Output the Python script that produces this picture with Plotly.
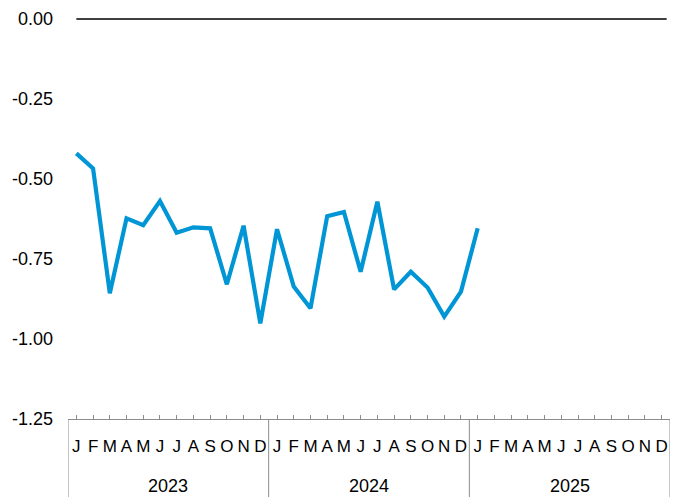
import plotly.graph_objects as go

months = ["J", "F", "M", "A", "M", "J", "J", "A", "S", "O", "N", "D"]
years = ["2023", "2024", "2025"]
values = [-0.420, -0.467, -0.857, -0.623, -0.644, -0.569, -0.668, -0.651, -0.654,
          -0.829, -0.646, -0.951,
          -0.657, -0.836, -0.904, -0.616, -0.603, -0.790, -0.571, -0.845, -0.790,
          -0.839, -0.930, -0.852,
          -0.654]
ytick_vals = [0, -0.25, -0.5, -0.75, -1.0, -1.25]
ytick_text = ["0.00", "-0.25", "-0.50", "-0.75", "-1.00", "-1.25"]

n_months = len(months) * len(years)
x_idx = list(range(len(values)))
month_labels = months * len(years)

W, H = 675, 497
ml, mr, mt, mb = 68, 5, 17, 78
pad_top = 0.00625
FONT = "Liberation Sans, Arial, sans-serif"

fig = go.Figure()
fig.add_trace(go.Scatter(x=x_idx, y=values, mode="lines",
                         line=dict(color="#0096D6", width=4.2),
                         hoverinfo="skip", showlegend=False))

# zero reference line
fig.add_shape(type="line", xref="x", yref="y", x0=0, x1=n_months - 0.7, y0=0, y1=0,
              line=dict(color="black", width=1.5))

# year separators
for k in range(len(years) + 1):
    xb = k * len(months) - 0.5
    fig.add_shape(type="line", xref="x", yref="paper", x0=xb, x1=xb, y0=0, y1=-0.2,
                  line=dict(color="#8c8c8c", width=1))

for k, yr in enumerate(years):
    fig.add_annotation(x=k * len(months) + 5.5, xref="x", y=-0.167, yref="paper",
                       text=yr, showarrow=False, yanchor="middle",
                       font=dict(size=18, color="black", family=FONT))

fig.update_layout(
    width=W, height=H,
    margin=dict(l=ml, r=mr, t=mt, b=mb),
    plot_bgcolor="white", paper_bgcolor="white",
    font=dict(family=FONT, size=16, color="black"),
    xaxis=dict(range=[-0.5, n_months - 0.5], tickvals=list(range(n_months)),
               ticktext=month_labels, ticks="inside", ticklen=4, tickcolor="#8c8c8c",
               showline=True, linecolor="#8c8c8c", linewidth=1, showgrid=False,
               zeroline=False, tickangle=0, ticklabelstandoff=12,
               tickfont=dict(size=17, color="black", family=FONT)),
    yaxis=dict(range=[-1.25, pad_top], tickvals=ytick_vals, ticktext=ytick_text,
               showgrid=False, zeroline=False, showline=False, ticks="",
               ticklabelstandoff=14, tickfont=dict(size=18, color="black", family=FONT)),
)

fig.write_html("out.html", config={"displayModeBar": False},
               post_script="document.body.style.margin='0';")
